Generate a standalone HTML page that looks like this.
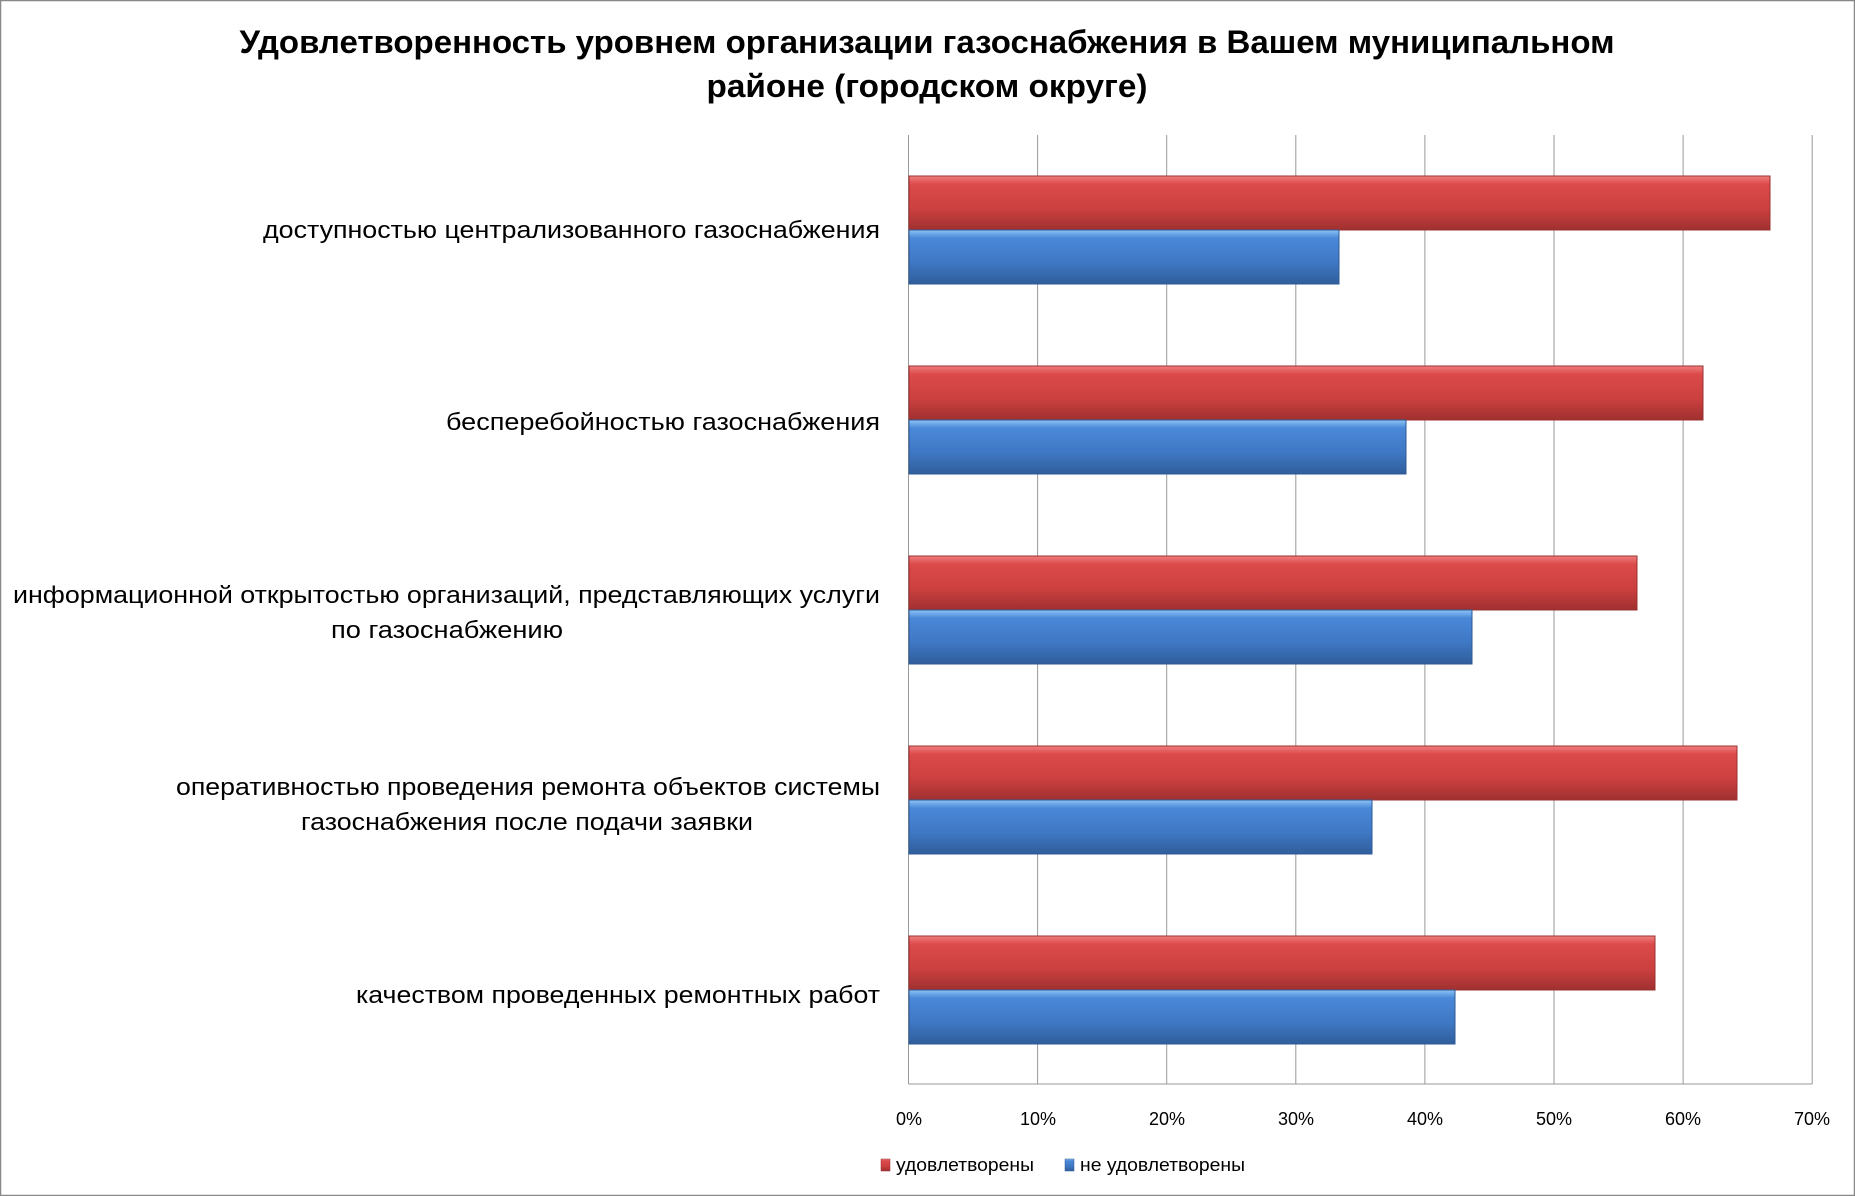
<!DOCTYPE html>
<html><head><meta charset="utf-8"><style>
html,body{margin:0;padding:0;background:#fff;}
svg{display:block;font-family:"Liberation Sans",sans-serif;}
</style></head><body>
<svg width="1855" height="1196" viewBox="0 0 1855 1196" xmlns="http://www.w3.org/2000/svg">
<defs>
<linearGradient id="r" x1="0" y1="0" x2="0" y2="1">
<stop offset="0" stop-color="#f08080"/><stop offset="0.15" stop-color="#dc4a4a"/><stop offset="0.6" stop-color="#cc4040"/><stop offset="1" stop-color="#a03030"/></linearGradient>
<linearGradient id="b" x1="0" y1="0" x2="0" y2="1">
<stop offset="0" stop-color="#8cc4f4"/><stop offset="0.15" stop-color="#4a88d8"/><stop offset="0.6" stop-color="#3f78c4"/><stop offset="1" stop-color="#2f5e9c"/></linearGradient>
</defs>
<rect x="0.5" y="0.5" width="1854" height="1195" fill="#fff" stroke="#888" stroke-width="1.5"/>
<text x="927" y="53" text-anchor="middle" font-size="32" font-weight="bold" textLength="1375" lengthAdjust="spacingAndGlyphs">Удовлетворенность уровнем организации газоснабжения в Вашем муниципальном</text>
<text x="927" y="97" text-anchor="middle" font-size="32" font-weight="bold" textLength="441" lengthAdjust="spacingAndGlyphs">районе (городском округе)</text>
<g stroke="#999" stroke-width="1">
<line x1="1037.6" y1="135" x2="1037.6" y2="1084"/>
<line x1="1166.7" y1="135" x2="1166.7" y2="1084"/>
<line x1="1295.8" y1="135" x2="1295.8" y2="1084"/>
<line x1="1424.9" y1="135" x2="1424.9" y2="1084"/>
<line x1="1554" y1="135" x2="1554" y2="1084"/>
<line x1="1683.1" y1="135" x2="1683.1" y2="1084"/>
<line x1="1812.2" y1="135" x2="1812.2" y2="1084"/>
<line x1="908.5" y1="135" x2="908.5" y2="1084"/>
<line x1="908.5" y1="1084" x2="1812.2" y2="1084"/>
</g>
<g stroke-width="1">
<rect x="909" y="176" width="861" height="54" fill="url(#r)" stroke="#9a3030"/>
<rect x="909" y="230" width="430" height="54" fill="url(#b)" stroke="#2f5a94"/>
<rect x="909" y="366" width="794" height="54" fill="url(#r)" stroke="#9a3030"/>
<rect x="909" y="420" width="497" height="54" fill="url(#b)" stroke="#2f5a94"/>
<rect x="909" y="556" width="728" height="54" fill="url(#r)" stroke="#9a3030"/>
<rect x="909" y="610" width="563" height="54" fill="url(#b)" stroke="#2f5a94"/>
<rect x="909" y="746" width="828" height="54" fill="url(#r)" stroke="#9a3030"/>
<rect x="909" y="800" width="463" height="54" fill="url(#b)" stroke="#2f5a94"/>
<rect x="909" y="936" width="746" height="54" fill="url(#r)" stroke="#9a3030"/>
<rect x="909" y="990" width="546" height="54" fill="url(#b)" stroke="#2f5a94"/>
</g>
<g font-size="24" text-anchor="end" fill="#000">
<text x="880" y="238" textLength="617" lengthAdjust="spacingAndGlyphs">доступностью централизованного газоснабжения</text>
<text x="880" y="430" textLength="434" lengthAdjust="spacingAndGlyphs">бесперебойностью  газоснабжения</text>
<text x="880" y="603" textLength="867" lengthAdjust="spacingAndGlyphs">информационной открытостью организаций, представляющих услуги</text>
<text x="563" y="638" textLength="232" lengthAdjust="spacingAndGlyphs">по газоснабжению</text>
<text x="880" y="795" textLength="704" lengthAdjust="spacingAndGlyphs">оперативностью проведения ремонта объектов системы</text>
<text x="753" y="830" textLength="452" lengthAdjust="spacingAndGlyphs">газоснабжения после подачи заявки</text>
<text x="880" y="1003" textLength="524" lengthAdjust="spacingAndGlyphs">качеством проведенных ремонтных работ</text>
</g>
<g font-size="18" text-anchor="middle" fill="#000">
<text x="909" y="1125">0%</text><text x="1038" y="1125">10%</text><text x="1167" y="1125">20%</text><text x="1296" y="1125">30%</text><text x="1425" y="1125">40%</text><text x="1554" y="1125">50%</text><text x="1683" y="1125">60%</text><text x="1812" y="1125">70%</text>
</g>
<rect x="881" y="1159" width="9" height="12" fill="url(#r)" stroke="#9a3030" stroke-width="0.5"/>
<text x="896" y="1171" font-size="18" textLength="138" lengthAdjust="spacingAndGlyphs">удовлетворены</text>
<rect x="1065" y="1159" width="9" height="12" fill="url(#b)" stroke="#2f5a94" stroke-width="0.5"/>
<text x="1080" y="1171" font-size="18" textLength="165" lengthAdjust="spacingAndGlyphs">не удовлетворены</text>
</svg>
</body></html>
